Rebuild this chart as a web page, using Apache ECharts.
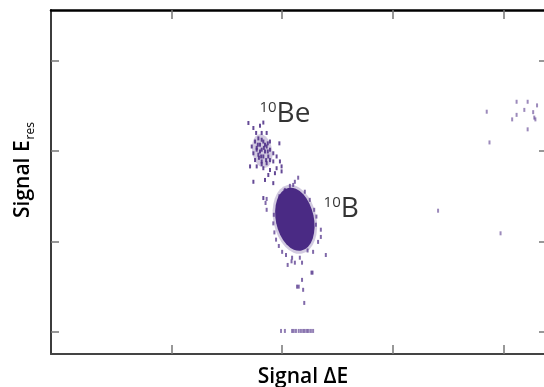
<!DOCTYPE html>
<html>
<head>
<meta charset="utf-8">
<script src="https://cdn.jsdelivr.net/npm/echarts@6/dist/echarts.min.js"></script>
<style>
  html, body { margin: 0; padding: 0; background: #fff; }
  #chart { width: 544px; height: 387px; }
</style>
</head>
<body>
<div id="chart"></div>
<script>
// tick positions (no tick labels in the original)
const xTicks = [200, 400, 600, 800]
const yTicks = [200, 400, 600, 800]

// dense 10B spot (centre of the blob)
const boronCore = [[423, 449]]
const berylliumCore = [[364, 600]]

// scattered events around the 10B spot
const boronDots = [
  [429, 541], [423, 532], [372, 494], [370, 485], [470, 426], [470, 410], [479, 370],
  [410, 348], [423, 353], [436, 353], [455, 331], [436, 315], [430, 300], [438, 293],
  [440, 264], [417, 356], [372, 470], [453, 331], [427, 300], [385, 459], [389, 404],
  [400, 377], [461, 437], [465, 399], [456, 377], [405, 514], [441, 510], [414, 523],
  [450, 492], [432, 364], [418, 364], [407, 370], [384, 440], [386, 420], [462, 455],
  [458, 470], [395, 500], [420, 525], [446, 380], [394, 390]
]

// events along the bottom of the spectrum
const floorDots = [
  [398, 202], [405, 202], [418, 202], [421, 202], [425, 202], [430, 202], [434, 202],
  [438, 202], [441, 202], [445, 202], [448, 202], [452, 202], [456, 202]
]

// 10Be cluster
const berylliumDots = [
  [339, 662], [348, 651], [366, 663], [360, 656], [353, 640], [363, 640], [372, 640],
  [357, 628], [351, 621], [366, 621], [378, 621], [360, 614], [372, 610], [395, 617],
  [354, 603], [363, 603], [369, 599], [378, 603], [384, 595], [348, 595], [357, 592],
  [366, 588], [375, 588], [390, 588], [351, 580], [363, 577], [372, 573], [384, 577],
  [396, 577], [354, 566], [366, 562], [378, 558], [390, 562], [399, 566], [375, 547],
  [387, 551], [399, 555], [369, 536], [348, 532], [384, 529], [366, 496], [342, 566],
  [345, 610], [356, 614], [363, 625], [369, 614], [360, 599], [367, 607], [374, 599],
  [358, 585], [371, 580], [363, 571], [354, 607], [378, 580], [374, 617], [362, 588]
]

// stray events on the right
const strayDots = [
  [824, 709], [844, 709], [861, 701], [770, 687], [838, 691], [854, 686], [824, 680],
  [816, 670], [856, 674], [858, 670], [844, 648], [775, 619], [682, 468], [795, 418]
]

const isotopeLabels = [
  { mass: '10', element: 'Be', value: [358, 680] },
  { mass: '10', element: 'B', value: [474, 470] }
]

const purple = '#4a2a84'
const font = 'Open Sans'

const tickStyle = { color: '#777', width: 1.5 }

const xAxisBase = (position, lineColor, lineWidth) => ({
  type: 'value',
  position,
  min: -18,
  max: 879,
  axisLine: { show: true, onZero: false, lineStyle: { color: lineColor, width: lineWidth } },
  axisTick: { show: true, inside: true, length: 9, customValues: xTicks, lineStyle: tickStyle },
  axisLabel: { show: false },
  splitLine: { show: false }
})

const yAxisBase = (position, showLine) => ({
  type: 'value',
  position,
  min: 151,
  max: 912,
  axisLine: { show: showLine, onZero: false, lineStyle: { color: '#3c3c3c', width: 2 } },
  axisTick: { show: true, inside: true, length: 8, customValues: yTicks, lineStyle: tickStyle },
  axisLabel: { show: false },
  splitLine: { show: false }
})

const dotSeries = (name, data, opacity) => ({
  name,
  type: 'scatter',
  data,
  symbol: 'rect',
  symbolSize: [2, 4],
  itemStyle: { color: purple, opacity },
  silent: true
})

const chart = echarts.init(document.getElementById('chart'), null, { renderer: 'canvas' })

const xName = xAxisBase('bottom', '#444', 2)
xName.name = 'Signal ΔE'
xName.nameLocation = 'middle'
xName.nameGap = 13
xName.nameTextStyle = { fontFamily: font, fontWeight: 600, fontSize: 21, color: '#000', padding: [0, 0, 0, 8] }

const yName = yAxisBase('left', true)
yName.name = '{a|Signal E}{b|res}'
yName.nameLocation = 'middle'
yName.nameGap = 14
yName.nameTextStyle = {
  padding: [0, 0, 0, 24],
  rich: {
    a: { fontFamily: font, fontWeight: 600, fontSize: 21, color: '#000', lineHeight: 24, verticalAlign: 'top' },
    b: { fontFamily: font, fontWeight: 400, fontSize: 12, color: '#000', lineHeight: 13, padding: [18, 0, 0, 1], verticalAlign: 'bottom' }
  }
}

const option = {
  animation: false,
  backgroundColor: '#fff',
  grid: { left: 51, right: -3, top: 10, bottom: 33, containLabel: false, outerBoundsMode: 'none' },
  xAxis: [xName, xAxisBase('top', '#000', 2.5)],
  yAxis: [yName, yAxisBase('right', false)],
  series: [
    {
      name: '10B halo',
      type: 'scatter',
      data: boronCore,
      symbol: 'circle',
      symbolSize: [43, 70],
      symbolRotate: 12,
      itemStyle: { color: purple, opacity: 0.25 },
      silent: true
    },
    {
      name: '10B',
      type: 'scatter',
      data: boronCore,
      symbol: 'circle',
      symbolSize: [38, 64],
      symbolRotate: 12,
      itemStyle: { color: purple, opacity: 1 },
      silent: true
    },
    {
      name: '10Be halo',
      type: 'scatter',
      data: berylliumCore,
      symbol: 'circle',
      symbolSize: [20, 34],
      symbolRotate: 10,
      itemStyle: { color: purple, opacity: 0.25 },
      silent: true
    },
    dotSeries('10Be', berylliumDots, 0.85),
    dotSeries('10B tail', boronDots, 0.7),
    dotSeries('floor', floorDots, 0.6),
    dotSeries('stray', strayDots, 0.55),
    {
      name: 'labels',
      type: 'scatter',
      data: isotopeLabels.map(d => ({ value: d.value, mass: d.mass, element: d.element })),
      symbolSize: 1,
      itemStyle: { color: 'transparent' },
      silent: true,
      label: {
        show: true,
        position: 'right',
        distance: 0,
        formatter: p => `{sup|${p.data.mass}}{el|${p.data.element}}`,
        rich: {
          sup: { fontFamily: font, fontSize: 15, color: '#000', lineHeight: 16, verticalAlign: 'top' },
          el: { fontFamily: font, fontSize: 28, color: '#000', lineHeight: 30, verticalAlign: 'top' }
        }
      }
    }
  ]
}

chart.setOption(option)
</script>
</body>
</html>
